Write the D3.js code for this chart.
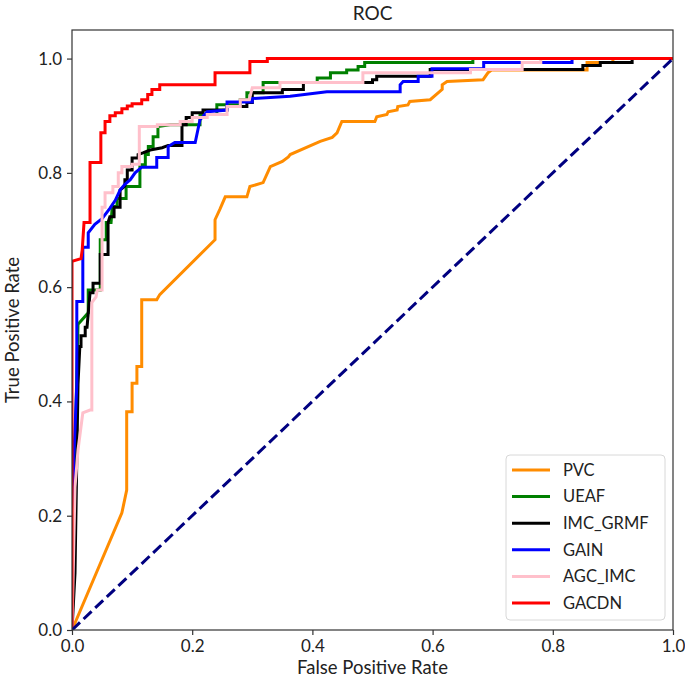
<!DOCTYPE html>
<html>
<head>
<meta charset="utf-8">
<script src="https://cdn.jsdelivr.net/npm/d3@7"></script>
<style>
  html, body { margin: 0; padding: 0; background: #fff; }
  svg text { font-family: Lato, "Open Sans", "DejaVu Sans", sans-serif; fill: #222; }
</style>
</head>
<body>
<svg id="chart" width="685" height="683"></svg>
<script>
// ---- data (fpr, tpr) ----
const seriesNames = ["PVC", "UEAF", "IMC_GRMF", "GAIN", "AGC_IMC", "GACDN"];
const seriesColors = ["#ff8c00", "#008000", "#000000", "#0000ff", "#ffc0cb", "#ff0000"];

const pvcFpr = [0, 0.083, 0.091, 0.091, 0.1, 0.1, 0.108, 0.108, 0.116, 0.116, 0.141, 0.146, 0.238, 0.238, 0.246, 0.255, 0.291, 0.296, 0.318, 0.33, 0.35, 0.36, 0.363, 0.413, 0.433, 0.441, 0.449, 0.504, 0.507, 0.524, 0.526, 0.541, 0.542, 0.559, 0.562, 0.596, 0.616, 0.616, 0.624, 0.684, 0.692, 0.698, 0.857, 0.857, 0.9, 0.9, 1];
const pvcTpr = [0, 0.205, 0.245, 0.382, 0.382, 0.432, 0.432, 0.461, 0.461, 0.578, 0.578, 0.587, 0.683, 0.718, 0.736, 0.758, 0.758, 0.776, 0.783, 0.811, 0.82, 0.828, 0.832, 0.855, 0.862, 0.87, 0.89, 0.89, 0.898, 0.902, 0.907, 0.91, 0.916, 0.919, 0.925, 0.928, 0.946, 0.954, 0.96, 0.963, 0.975, 0.98, 0.98, 0.993, 0.993, 1, 1];

const ueafFpr = [0, 0.005, 0.008, 0.01, 0.027, 0.027, 0.047, 0.047, 0.057, 0.057, 0.065, 0.067, 0.075, 0.075, 0.09, 0.09, 0.113, 0.113, 0.122, 0.122, 0.127, 0.127, 0.135, 0.135, 0.143, 0.143, 0.163, 0.213, 0.213, 0.241, 0.241, 0.28, 0.28, 0.291, 0.291, 0.318, 0.318, 0.408, 0.408, 0.43, 0.43, 0.457, 0.457, 0.476, 0.476, 0.487, 0.487, 0.667, 0.667, 1];
const ueafTpr = [0, 0.3, 0.45, 0.535, 0.555, 0.595, 0.595, 0.683, 0.683, 0.713, 0.713, 0.741, 0.741, 0.755, 0.755, 0.776, 0.776, 0.814, 0.814, 0.832, 0.832, 0.846, 0.846, 0.863, 0.863, 0.881, 0.884, 0.884, 0.902, 0.902, 0.919, 0.919, 0.928, 0.928, 0.94, 0.94, 0.958, 0.958, 0.966, 0.966, 0.975, 0.975, 0.98, 0.98, 0.986, 0.986, 0.993, 0.993, 1, 1];

const imcFpr = [0, 0.005, 0.008, 0.01, 0.013, 0.015, 0.015, 0.022, 0.022, 0.025, 0.03, 0.035, 0.035, 0.047, 0.047, 0.06, 0.06, 0.063, 0.07, 0.07, 0.08, 0.08, 0.088, 0.088, 0.092, 0.092, 0.1, 0.1, 0.11, 0.11, 0.118, 0.13, 0.15, 0.16, 0.183, 0.183, 0.19, 0.19, 0.2, 0.2, 0.218, 0.218, 0.258, 0.258, 0.291, 0.291, 0.3, 0.3, 0.35, 0.35, 0.385, 0.385, 0.5, 0.5, 0.507, 0.507, 0.596, 0.596, 0.85, 0.85, 0.879, 0.879, 0.932, 0.932, 1];
const imcTpr = [0, 0.1, 0.3, 0.43, 0.496, 0.496, 0.515, 0.515, 0.53, 0.53, 0.59, 0.59, 0.607, 0.607, 0.657, 0.657, 0.713, 0.723, 0.723, 0.74, 0.74, 0.77, 0.777, 0.788, 0.788, 0.805, 0.805, 0.826, 0.826, 0.832, 0.835, 0.84, 0.844, 0.848, 0.848, 0.884, 0.884, 0.897, 0.897, 0.905, 0.905, 0.91, 0.91, 0.916, 0.916, 0.923, 0.923, 0.94, 0.94, 0.946, 0.946, 0.958, 0.958, 0.963, 0.963, 0.969, 0.969, 0.981, 0.981, 0.988, 0.988, 0.993, 0.993, 1, 1];

const gainFpr = [0, 0.003, 0.008, 0.008, 0.018, 0.018, 0.027, 0.027, 0.038, 0.05, 0.063, 0.072, 0.08, 0.088, 0.097, 0.105, 0.116, 0.141, 0.141, 0.16, 0.16, 0.171, 0.205, 0.213, 0.225, 0.258, 0.258, 0.3, 0.3, 0.363, 0.424, 0.546, 0.546, 0.551, 0.576, 0.576, 0.599, 0.599, 0.685, 0.685, 0.832, 0.832, 1];
const gainTpr = [0, 0.3, 0.43, 0.575, 0.575, 0.67, 0.67, 0.695, 0.71, 0.72, 0.738, 0.752, 0.77, 0.78, 0.788, 0.8, 0.81, 0.81, 0.827, 0.827, 0.846, 0.853, 0.853, 0.893, 0.907, 0.91, 0.924, 0.924, 0.93, 0.934, 0.942, 0.942, 0.954, 0.96, 0.96, 0.969, 0.969, 0.982, 0.982, 0.993, 0.993, 1, 1];

const agcFpr = [0, 0.005, 0.01, 0.018, 0.03, 0.033, 0.033, 0.04, 0.042, 0.05, 0.05, 0.055, 0.055, 0.068, 0.068, 0.077, 0.077, 0.083, 0.083, 0.1, 0.1, 0.112, 0.112, 0.142, 0.142, 0.18, 0.18, 0.2, 0.2, 0.225, 0.225, 0.258, 0.258, 0.28, 0.28, 0.295, 0.3, 0.346, 0.346, 0.484, 0.484, 0.663, 0.663, 0.749, 0.749, 0.78, 0.78, 1];
const agcTpr = [0, 0.25, 0.315, 0.38, 0.385, 0.385, 0.573, 0.583, 0.595, 0.595, 0.74, 0.74, 0.765, 0.765, 0.776, 0.776, 0.8, 0.8, 0.811, 0.811, 0.815, 0.815, 0.881, 0.881, 0.884, 0.884, 0.89, 0.89, 0.897, 0.897, 0.902, 0.902, 0.916, 0.916, 0.928, 0.928, 0.949, 0.949, 0.958, 0.958, 0.975, 0.975, 0.981, 0.981, 0.993, 0.993, 1, 1];

const gacdnFpr = [0, 0, 0.015, 0.017, 0.02, 0.03, 0.03, 0.048, 0.048, 0.055, 0.055, 0.063, 0.063, 0.072, 0.072, 0.083, 0.083, 0.092, 0.092, 0.1, 0.1, 0.116, 0.116, 0.126, 0.126, 0.133, 0.133, 0.146, 0.146, 0.238, 0.238, 0.296, 0.296, 0.325, 0.325, 1];
const gacdnTpr = [0, 0.645, 0.65, 0.665, 0.713, 0.713, 0.818, 0.818, 0.87, 0.87, 0.89, 0.89, 0.9, 0.9, 0.905, 0.905, 0.912, 0.912, 0.917, 0.917, 0.921, 0.921, 0.928, 0.928, 0.937, 0.937, 0.946, 0.946, 0.954, 0.954, 0.975, 0.975, 0.995, 0.995, 1, 1];

const chanceFpr = [0, 1];
const chanceTpr = [0, 1];

const xTicks = [0, 0.2, 0.4, 0.6, 0.8, 1.0];
const yTicks = [0, 0.2, 0.4, 0.6, 0.8, 1.0];

const allFpr = [pvcFpr, ueafFpr, imcFpr, gainFpr, agcFpr, gacdnFpr];
const allTpr = [pvcTpr, ueafTpr, imcTpr, gainTpr, agcTpr, gacdnTpr];

// ---- layout ----
const svg = d3.select("#chart");
const L = 72, R = 673, T = 30, B = 630;
const x = d3.scaleLinear().domain([0, 1]).range([L, R]);
const y = d3.scaleLinear().domain([0, 1.05]).range([B, T]);

svg.append("defs").append("clipPath").attr("id", "clip")
  .append("rect").attr("x", L).attr("y", T).attr("width", R - L).attr("height", B - T);

const line = d3.line().x(d => x(d[0])).y(d => y(d[1]));
const plot = svg.append("g").attr("clip-path", "url(#clip)");

allFpr.forEach((fpr, i) => {
  const pts = fpr.map((f, j) => [f, allTpr[i][j]]);
  plot.append("path").datum(pts)
    .attr("d", line)
    .attr("fill", "none")
    .attr("stroke", seriesColors[i])
    .attr("stroke-width", 3)
    .attr("stroke-linejoin", "miter")
    .attr("stroke-linecap", "square");
});

plot.append("path")
  .datum(chanceFpr.map((f, j) => [f, chanceTpr[j]]))
  .attr("d", line)
  .attr("fill", "none")
  .attr("stroke", "#000080")
  .attr("stroke-width", 3)
  .attr("stroke-dasharray", "11,5");

// frame
svg.append("rect").attr("x", L).attr("y", T).attr("width", R - L).attr("height", B - T)
  .attr("fill", "none").attr("stroke", "#333").attr("stroke-width", 1.2);

// axes
const xAxis = d3.axisBottom(x).tickValues(xTicks).tickFormat(d3.format(".1f")).tickSize(5).tickPadding(5);
const yAxis = d3.axisLeft(y).tickValues(yTicks).tickFormat(d3.format(".1f")).tickSize(5).tickPadding(5);

const gx = svg.append("g").attr("transform", `translate(0,${B})`).call(xAxis);
const gy = svg.append("g").attr("transform", `translate(${L},0)`).call(yAxis);
[gx, gy].forEach(g => {
  g.select(".domain").remove();
  g.selectAll(".tick line").attr("stroke", "#333").attr("stroke-width", 1.2);
  g.selectAll(".tick text").style("font-size", "17px").attr("fill", "#222");
});

// title and labels
svg.append("text").attr("x", (L + R) / 2).attr("y", 20)
  .attr("text-anchor", "middle").style("font-size", "19px").text("ROC");
svg.append("text").attr("x", (L + R) / 2).attr("y", 674)
  .attr("text-anchor", "middle").style("font-size", "18.5px").text("False Positive Rate");
svg.append("text")
  .attr("transform", `translate(19,${(T + B) / 2}) rotate(-90)`)
  .attr("text-anchor", "middle").style("font-size", "18.5px").text("True Positive Rate");

// legend
const lg = svg.append("g");
lg.append("rect").attr("x", 506).attr("y", 455).attr("width", 159).attr("height", 165)
  .attr("rx", 4).attr("fill", "#fff").attr("fill-opacity", 0.85)
  .attr("stroke", "#d8d8d8").attr("stroke-width", 1);
seriesNames.forEach((name, i) => {
  const cy = 470 + i * 26.6;
  lg.append("line").attr("x1", 512).attr("x2", 550).attr("y1", cy).attr("y2", cy)
    .attr("stroke", seriesColors[i]).attr("stroke-width", 3);
  lg.append("text").attr("x", 563).attr("y", cy).attr("dy", "0.35em")
    .style("font-size", "16.5px").text(name);
});
</script>
</body>
</html>
